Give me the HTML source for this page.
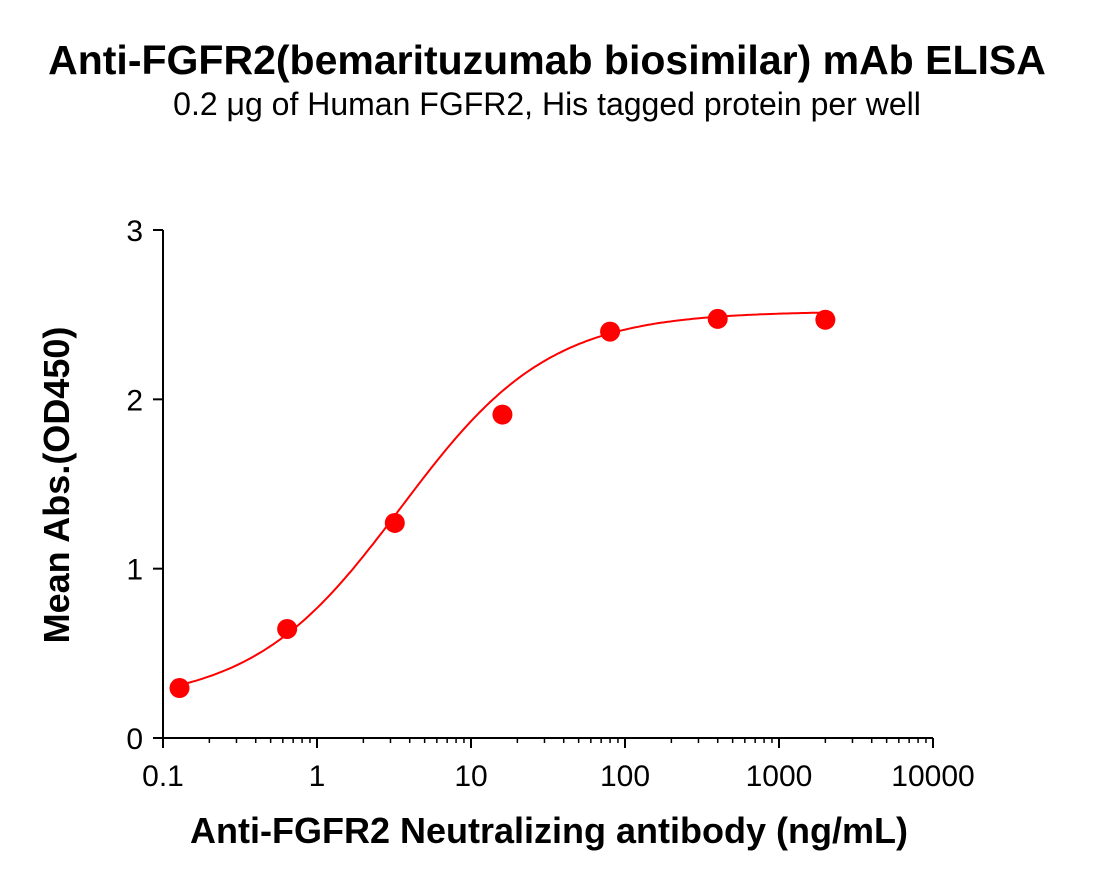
<!DOCTYPE html>
<html><head><meta charset="utf-8"><style>
body{margin:0;background:#fff;}
svg text{font-family:"Liberation Sans",Arial,sans-serif;}
</style></head><body>
<svg width="1094" height="886" viewBox="0 0 1094 886">
<text x="547" y="74" text-anchor="middle" font-size="41" font-weight="bold">Anti-FGFR2(bemarituzumab biosimilar) mAb ELISA</text>
<text x="547" y="115" text-anchor="middle" font-size="32">0.2 μg of Human FGFR2, His tagged protein per well</text>
<g id="axes"></g>
<g id="marks"></g>
<text x="549" y="843" text-anchor="middle" font-size="36" font-weight="bold">Anti-FGFR2 Neutralizing antibody (ng/mL)</text>
<text transform="translate(69,485) rotate(-90)" text-anchor="middle" font-size="36" font-weight="bold">Mean Abs.(OD450)</text>
</svg>
<script>
const concentrations=[0.128,0.64,3.2,16,80,400,2000];
const absorbance=[0.295,0.644,1.27,1.91,2.40,2.475,2.47];
const xTickLabels=["0.1","1","10","100","1000","10000"];
const xTickValues=[0.1,1,10,100,1000,10000];
const yTickValues=[0,1,2,3];
const fitBottom=0.2, fitTop=2.52, fitEC50=3.5, fitHill=0.9;
const NS="http://www.w3.org/2000/svg";
const X0=163,X1=933,Y0=738,Y1=230;
function xs(v){return X0+(Math.log10(v)+1)/5*(X1-X0);}
function ys(v){return Y0-v/3*(Y0-Y1);}
function mk(t,a,p){const e=document.createElementNS(NS,t);for(const k in a)e.setAttribute(k,a[k]);p.appendChild(e);return e;}
const ax=document.getElementById('axes'),mr=document.getElementById('marks');
let l=mk('line',{x1:X0,y1:Y0,x2:X1,y2:Y0,stroke:'#000','stroke-width':2},ax);


l=mk('line',{x1:X0,y1:Y0,x2:X0,y2:Y1,stroke:'#000','stroke-width':2},ax);


xTickValues.forEach((v,i)=>{
 const x=xs(v);
 const t=mk('line',{x1:x,y1:Y0,x2:x,y2:Y0+10,stroke:'#000','stroke-width':2},ax);
 
 
 const tx=mk('text',{x:x,y:Y0+48,'text-anchor':'middle','font-size':30},ax);
 tx.textContent=xTickLabels[i];
 
 
 if(i<xTickValues.length-1){for(let m=2;m<10;m++){const mx=xs(v*m);
  const mt=mk('line',{x1:mx,y1:Y0,x2:mx,y2:Y0+5,stroke:'#000','stroke-width':1.5},ax);
  
  }}
});
yTickValues.forEach(v=>{
 const y=ys(v);
 const t=mk('line',{x1:X0-10,y1:y,x2:X0,y2:y,stroke:'#000','stroke-width':2},ax);
 
 
 const tx=mk('text',{x:X0-20,y:y+11,'text-anchor':'end','font-size':30},ax);
 tx.textContent=String(v);
 
 
});
let d='';const lo=Math.log10(concentrations[0]),hi=Math.log10(concentrations[concentrations.length-1]);
for(let i=0;i<=200;i++){const lv=lo+(hi-lo)*i/200,c=Math.pow(10,lv);
 const yv=fitBottom+(fitTop-fitBottom)/(1+Math.pow(fitEC50/c,fitHill));
 d+=(i?'L':'M')+xs(c).toFixed(1)+','+ys(yv).toFixed(1);}
const p=mk('path',{d:d,fill:'none',stroke:'#f00','stroke-width':2},mr);


concentrations.forEach((c,i)=>{
 const ci=mk('circle',{cx:xs(c),cy:ys(absorbance[i]),r:10,fill:'#f00'},mr);
 
 
});
</script>
</body></html>
